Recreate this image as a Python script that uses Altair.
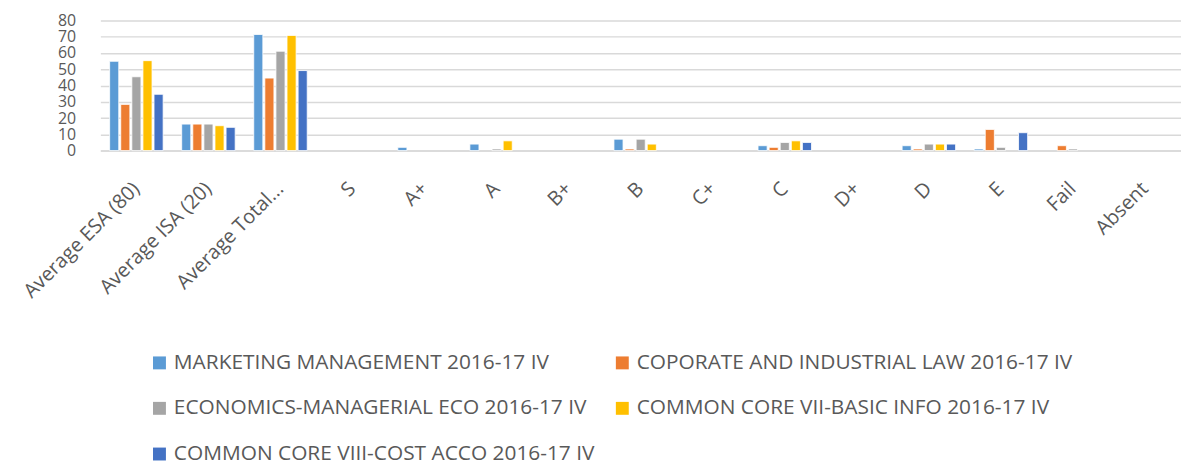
import altair as alt
import pandas as pd

categories = ["Average ESA (80)", "Average ISA (20)", "Average Total...", "S", "A+", "A",
              "B+", "B", "C+", "C", "D+", "D", "E", "Fail", "Absent"]
series = ["MARKETING MANAGEMENT 2016-17 IV", "COPORATE AND INDUSTRIAL LAW 2016-17 IV",
          "ECONOMICS-MANAGERIAL ECO 2016-17 IV", "COMMON CORE VII-BASIC INFO 2016-17 IV",
          "COMMON CORE VIII-COST ACCO 2016-17 IV"]
marketing = [54.9, 16.3, 71.4, 0, 2, 4, 0, 7, 0, 3, 0, 3, 1, 0, 0]
corporate = [28.4, 16.3, 44.6, 0, 0, 0, 0, 1, 0, 2, 0, 1, 13, 3, 0]
economics = [45.4, 16.3, 61.1, 0, 0, 1, 0, 7, 0, 5, 0, 4, 2, 1, 0]
core7 = [55.3, 15.3, 70.8, 0, 0, 6, 0, 4, 0, 6, 0, 4, 0, 0, 0]
core8 = [34.6, 14.3, 49.2, 0, 0, 0, 0, 0, 0, 5, 0, 4, 11, 0, 0]
colors = ["#5B9BD5", "#ED7D31", "#A5A5A5", "#FFC000", "#4472C4"]

rows = []
for name, vals in zip(series, [marketing, corporate, economics, core7, core8]):
    for c, v in zip(categories, vals):
        rows.append({"category": c, "series": name, "value": v})
df = pd.DataFrame(rows)

chart = alt.Chart(df).transform_filter("datum.value > 0").mark_bar(
    stroke="white", strokeWidth=0.8
).encode(
    x=alt.X("category:N", sort=categories,
            scale=alt.Scale(domain=categories, paddingInner=0.23, paddingOuter=0.115),
            axis=alt.Axis(title=None, labelAngle=315, labelAlign="right", labelBaseline="middle",
                          labelPadding=35, labelFontSize=20, labelColor="#595959",
                          labelFont="Open Sans", ticks=False, domainColor="#D9D9D9",
                          domainWidth=1.5, grid=False, labelLimit=400)),
    xOffset=alt.XOffset("series:N", sort=series,
                        scale=alt.Scale(domain=series, paddingInner=0.18, paddingOuter=0.09)),
    y=alt.Y("value:Q", scale=alt.Scale(domain=[0, 80]),
            axis=alt.Axis(title=None, values=list(range(0, 90, 10)), ticks=False, domain=False,
                          gridColor="#D9D9D9", gridWidth=1.5, labelFontSize=16,
                          labelColor="#595959", labelFont="Open Sans", labelPadding=25,
                          labelOverlap=False)),
    color=alt.Color("series:N", sort=series,
                    scale=alt.Scale(domain=series, range=colors),
                    legend=alt.Legend(title=None, orient="none", legendX=49, legendY=334,
                                      columns=2, direction="horizontal",
                                      symbolType="square", symbolSize=169,
                                      symbolStrokeWidth=0, labelFontSize=21,
                                      labelColor="#595959", labelFont="Open Sans",
                                      rowPadding=24, columnPadding=2, labelLimit=700,
                                      gridAlign="all", labelOffset=4)),
).properties(
    width=1088, height=131,
    autosize=alt.AutoSizeParams(type="none"),
    padding={"left": 93, "top": 11, "right": 0, "bottom": 318},
).configure_view(stroke=None)

chart.save("out.html", embed_options={"renderer": "svg", "actions": False})
